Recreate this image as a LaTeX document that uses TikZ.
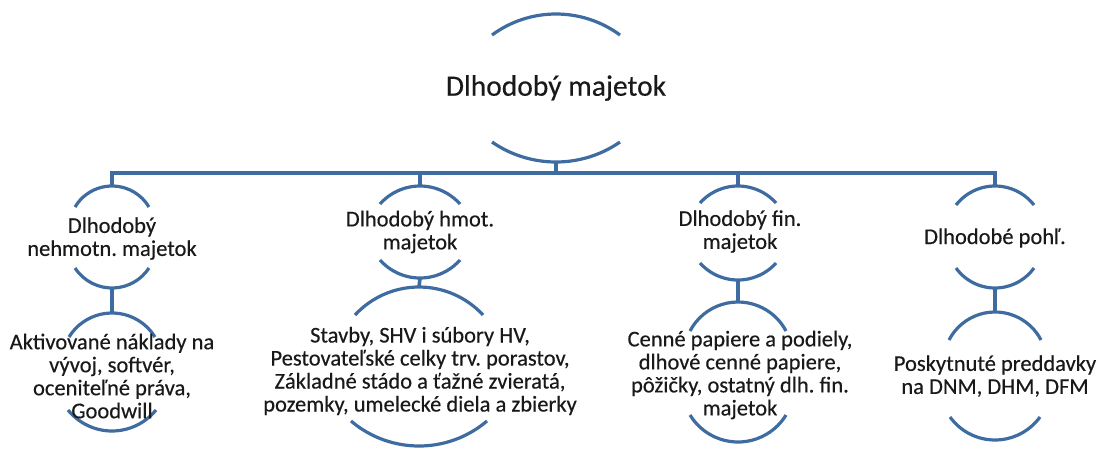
\documentclass[tikz,border=0pt]{standalone}
\usepackage{fontspec}
\setmainfont[FakeBold=0.35]{Carlito}
\frenchspacing
\definecolor{arcblue}{RGB}{62,108,160}
\definecolor{txtgray}{RGB}{25,25,25}
\tikzset{
  arcline/.style={draw=arcblue, line width=3.2pt, line cap=butt},
  conn/.style={draw=arcblue, line width=3.6pt, line join=miter},
  txt/.style={align=center, inner sep=0pt, text=txtgray, font=\fontsize{22.5}{23}\selectfont\frenchspacing},
  toptxt/.style={align=center, inner sep=0pt, text=txtgray, font=\fontsize{29.5}{35}\selectfont}
}
% #1 name, #2 cx, #3 apex y, #4 end y, #5 half width
\newcommand\drawtoparc[5]{%
  \pgfmathsetmacro\arcS{#4-#3}%
  \pgfmathsetmacro\arcR{(#5*#5+\arcS*\arcS)/(2*\arcS)}%
  \pgfmathsetmacro\arcA{asin(#5/\arcR)}%
  \coordinate (#1) at (#2,#3);
  \draw[arcline] (#2-#5,#4) arc[start angle=90+\arcA, end angle=90-\arcA, radius=\arcR pt];
}
\newcommand\drawbotarc[5]{%
  \pgfmathsetmacro\arcS{#3-#4}%
  \pgfmathsetmacro\arcR{(#5*#5+\arcS*\arcS)/(2*\arcS)}%
  \pgfmathsetmacro\arcA{asin(#5/\arcR)}%
  \coordinate (#1) at (#2,#3);
  \draw[arcline] (#2-#5,#4) arc[start angle=270-\arcA, end angle=270+\arcA, radius=\arcR pt];
}
\begin{document}
\begin{tikzpicture}[x=1pt, y=-1pt]
\useasboundingbox (0,0) rectangle (1099,448);

% top node
\drawtoparc{t-n}{556}{14}{35}{64}
\drawbotarc{t-s}{556}{162}{142}{64}
\node[toptxt] (t) at (556,88) {Dlhodobý majetok};

% second row
\drawtoparc{c1-n}{112}{186}{207}{37}
\drawbotarc{c1-s}{112}{288}{268}{37}
\node[txt] (c1) at (112,238.5) {Dlhodobý\\nehmotn. majetok};

\drawtoparc{c2-n}{420}{186}{204}{40}
\drawbotarc{c2-s}{420}{278}{260}{40}
\node[txt] (c2) at (420,232) {Dlhodobý hmot.\\majetok};

\drawtoparc{c3-n}{738}{186}{203}{38}
\drawbotarc{c3-s}{738}{280}{263}{38}
\node[txt] (c3) at (740,231.5) {Dlhodobý fin.\\majetok};

\drawtoparc{c4-n}{995}{186}{205}{39}
\drawbotarc{c4-s}{995}{288}{268}{39}
\node[txt] (c4) at (995,238) {Dlhodobé pohľ.};

% third row
\drawtoparc{l1-n}{112}{313}{337}{43}
\drawbotarc{l1-s}{112}{431}{410}{44}
\node[txt] (l1) at (112,376) {Aktivované náklady na\\vývoj, softvér,\\oceniteľné práva,\\Goodwill};

\drawtoparc{l2-n}{419}{287}{315}{64}
\drawbotarc{l2-s}{419}{446}{421}{68}
\node[txt] (l2) at (420,371) {Stavby, SHV i súbory HV,\\Pestovateľské celky trv. porastov,\\Základné stádo a ťažné zvieratá,\\pozemky, umelecké diela a zbierky};

\drawtoparc{l3-n}{738}{302}{331}{48}
\drawbotarc{l3-s}{738}{442}{415}{48}
\node[txt] (l3) at (740,375) {Cenné papiere a podiely,\\dlhové cenné papiere,\\pôžičky, ostatný dlh. fin.\\majetok};

\drawtoparc{l4-n}{995}{312}{340}{46}
\drawbotarc{l4-s}{995}{440}{417}{45}
\node[txt] (l4) at (995,376) {Poskytnuté preddavky\\na DNM, DHM, DFM};

% connectors
\coordinate (bus) at (556,173);
\draw[conn] (t-s) -- (bus);
\draw[conn] (c1-n) -- (c1-n |- bus) -- (c4-n |- bus) -- (c4-n);
\draw[conn] (c2-n) -- (c2-n |- bus);
\draw[conn] (c3-n) -- (c3-n |- bus);
\draw[conn] (c1-s) -- (l1-n);
\draw[conn] (c2-s) -- (l2-n);
\draw[conn] (c3-s) -- (l3-n);
\draw[conn] (c4-s) -- (l4-n);
\end{tikzpicture}
\end{document}
